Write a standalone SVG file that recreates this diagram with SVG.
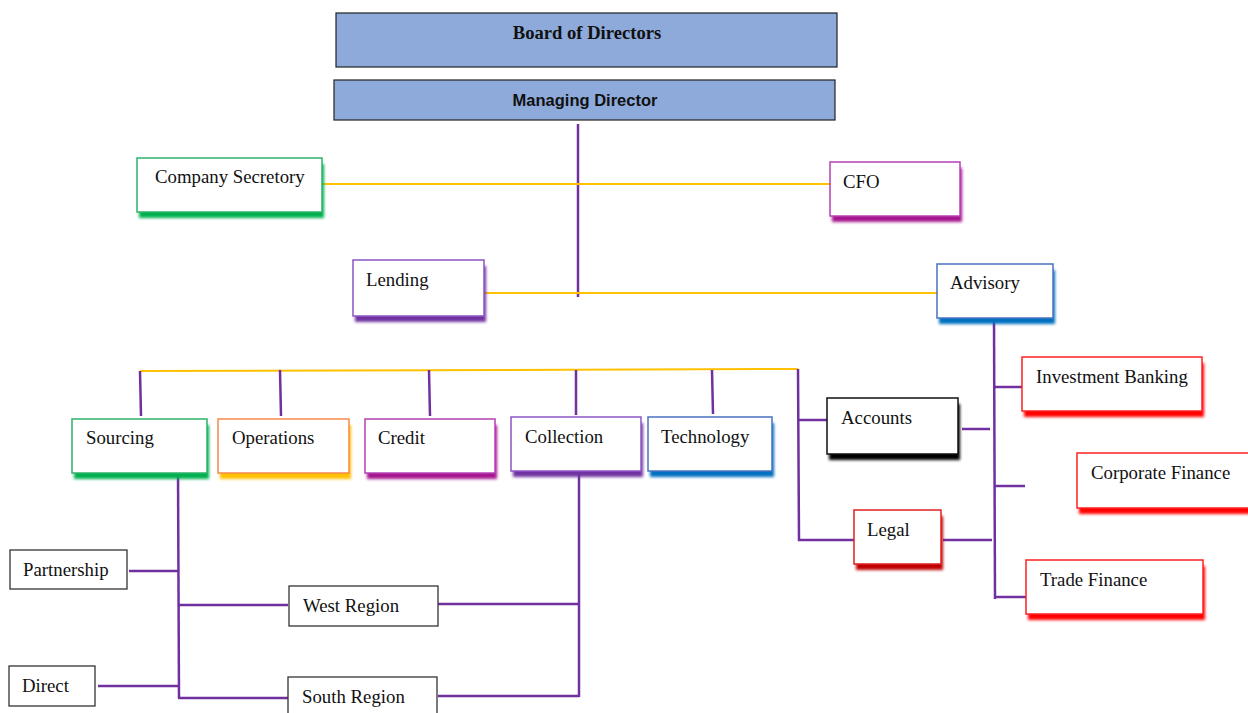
<svg xmlns="http://www.w3.org/2000/svg" width="1248" height="713" viewBox="0 0 1248 713">
<defs>
<filter id="blur" x="-10%" y="-20%" width="120%" height="140%"><feGaussianBlur stdDeviation="1.5"/></filter>
<style>
.t{font-family:"Liberation Serif","Times New Roman",serif;font-size:18.8px;fill:#111}
.box{fill:#fff;stroke-width:1.5}
.sh{filter:url(#blur)}
.p{stroke:#7030a0;stroke-width:2.5;fill:none}
.y{stroke:#ffc000;stroke-width:2;fill:none}
.head{fill:#8eaadb;stroke:#222;stroke-width:1.2}
.plain{fill:#fff;stroke:#333;stroke-width:1.3}
</style>
</defs>
<rect width="1248" height="713" fill="#fff"/>

<g id="connectors">
<line class="p" x1="578" y1="124" x2="578" y2="297"/>
<line class="y" x1="322" y1="184" x2="830" y2="184"/>
<line class="y" x1="484" y1="293" x2="937" y2="293"/>
<line class="y" x1="140" y1="371" x2="798" y2="369"/>
<line class="p" x1="140" y1="371" x2="141" y2="416"/>
<line class="p" x1="280" y1="370" x2="281" y2="416"/>
<line class="p" x1="429" y1="370" x2="430" y2="416"/>
<line class="p" x1="576" y1="370" x2="576" y2="415"/>
<line class="p" x1="712" y1="370" x2="713" y2="414"/>
<polyline class="p" points="798,369 799,540 854,540"/>
<line class="p" x1="799" y1="420" x2="827" y2="420"/>
<line class="p" x1="962" y1="429" x2="990" y2="429"/>
<line class="p" x1="943" y1="540" x2="992" y2="540"/>
<line class="p" x1="994" y1="320" x2="995" y2="599"/>
<line class="p" x1="994" y1="387" x2="1022" y2="387"/>
<line class="p" x1="995" y1="486" x2="1025" y2="486"/>
<line class="p" x1="995" y1="597" x2="1026" y2="597"/>
<line class="p" x1="178" y1="470" x2="179" y2="698"/>
<line class="p" x1="129" y1="571" x2="178" y2="571"/>
<line class="p" x1="98" y1="686" x2="178" y2="686"/>
<line class="p" x1="178" y1="605" x2="288" y2="605"/>
<line class="p" x1="178" y1="698" x2="288" y2="698"/>
<line class="p" x1="438" y1="604" x2="579" y2="604"/>
<line class="p" x1="438" y1="696" x2="579" y2="696"/>
<line class="p" x1="579" y1="465" x2="579" y2="697"/>
</g>

<g id="board">
<rect class="head" x="336" y="13" width="501" height="54"/>
<text x="587" y="39" text-anchor="middle" style="font-family:'Liberation Serif',serif;font-weight:bold;font-size:18.6px;fill:#111">Board of Directors</text>
</g>
<g id="md">
<rect class="head" x="334" y="80" width="501" height="40"/>
<text x="585" y="106" text-anchor="middle" style="font-family:'Liberation Sans',Arial,sans-serif;font-weight:bold;font-size:16.5px;fill:#111">Managing Director</text>
</g>

<g id="company-secretory">
<rect class="sh" x="139" y="164" width="185" height="54" fill="#00b050"/>
<rect class="box" x="137" y="158" width="185" height="54" stroke="#2eb26a"/>
<text class="t" x="155" y="183">Company Secretory</text>
</g>
<g id="cfo">
<rect class="sh" x="832" y="168" width="130" height="54" fill="#a5168f"/>
<rect class="box" x="830" y="162" width="130" height="54" stroke="#b540b5"/>
<text class="t" x="843" y="188">CFO</text>
</g>
<g id="lending">
<rect class="sh" x="355" y="266" width="131" height="56" fill="#7030a0"/>
<rect class="box" x="353" y="260" width="131" height="56" stroke="#8a55c5"/>
<text class="t" x="366" y="286">Lending</text>
</g>
<g id="advisory">
<rect class="sh" x="939" y="270" width="116" height="54" fill="#0070c0"/>
<rect class="box" x="937" y="264" width="116" height="54" stroke="#4a72c0"/>
<text class="t" x="950" y="289">Advisory</text>
</g>

<g id="sourcing">
<rect class="sh" x="74" y="425" width="135" height="54" fill="#00b050"/>
<rect class="box" x="72" y="419" width="135" height="54" stroke="#2eb26a"/>
<text class="t" x="86" y="444">Sourcing</text>
</g>
<g id="operations">
<rect class="sh" x="220" y="425" width="131" height="54" fill="#ffc000"/>
<rect class="box" x="218" y="419" width="131" height="54" stroke="#f4894b"/>
<text class="t" x="232" y="444">Operations</text>
</g>
<g id="credit">
<rect class="sh" x="367" y="425" width="130" height="54" fill="#a5168f"/>
<rect class="box" x="365" y="419" width="130" height="54" stroke="#b540b5"/>
<text class="t" x="378" y="444">Credit</text>
</g>
<g id="collection">
<rect class="sh" x="513" y="423" width="130" height="54" fill="#7030a0"/>
<rect class="box" x="511" y="417" width="130" height="54" stroke="#8a55c5"/>
<text class="t" x="525" y="443">Collection</text>
</g>
<g id="technology">
<rect class="sh" x="650" y="423" width="124" height="54" fill="#0070c0"/>
<rect class="box" x="648" y="417" width="124" height="54" stroke="#4a72c0"/>
<text class="t" x="661" y="443">Technology</text>
</g>

<g id="accounts">
<rect class="sh" x="829" y="404" width="131" height="56" fill="#000"/>
<rect class="box" x="827" y="398" width="131" height="56" stroke="#111"/>
<text class="t" x="841" y="424">Accounts</text>
</g>
<g id="legal">
<rect class="sh" x="856" y="516" width="87" height="54" fill="#c00000"/>
<rect class="box" x="854" y="510" width="87" height="54" stroke="#e02020"/>
<text class="t" x="867" y="536">Legal</text>
</g>

<g id="investment-banking">
<rect class="sh" x="1024" y="363" width="180" height="54" fill="#ff0000"/>
<rect class="box" x="1022" y="357" width="180" height="54" stroke="#ff2020"/>
<text class="t" x="1036" y="383">Investment Banking</text>
</g>
<g id="corporate-finance">
<rect class="sh" x="1079" y="459" width="175" height="55" fill="#ff0000"/>
<rect class="box" x="1077" y="453" width="175" height="55" stroke="#ff2020"/>
<text class="t" x="1091" y="479">Corporate Finance</text>
</g>
<g id="trade-finance">
<rect class="sh" x="1028" y="566" width="177" height="54" fill="#ff0000"/>
<rect class="box" x="1026" y="560" width="177" height="54" stroke="#ff2020"/>
<text class="t" x="1040" y="586">Trade Finance</text>
</g>

<g id="partnership">
<rect class="plain" x="10" y="550" width="117" height="39"/>
<text class="t" x="23" y="576">Partnership</text>
</g>
<g id="direct">
<rect class="plain" x="9" y="666" width="86" height="40"/>
<text class="t" x="22" y="692">Direct</text>
</g>
<g id="west-region">
<rect class="plain" x="289" y="586" width="149" height="40"/>
<text class="t" x="303" y="612">West Region</text>
</g>
<g id="south-region">
<rect class="plain" x="288" y="677" width="149" height="45"/>
<text class="t" x="302" y="703">South Region</text>
</g>
</svg>
